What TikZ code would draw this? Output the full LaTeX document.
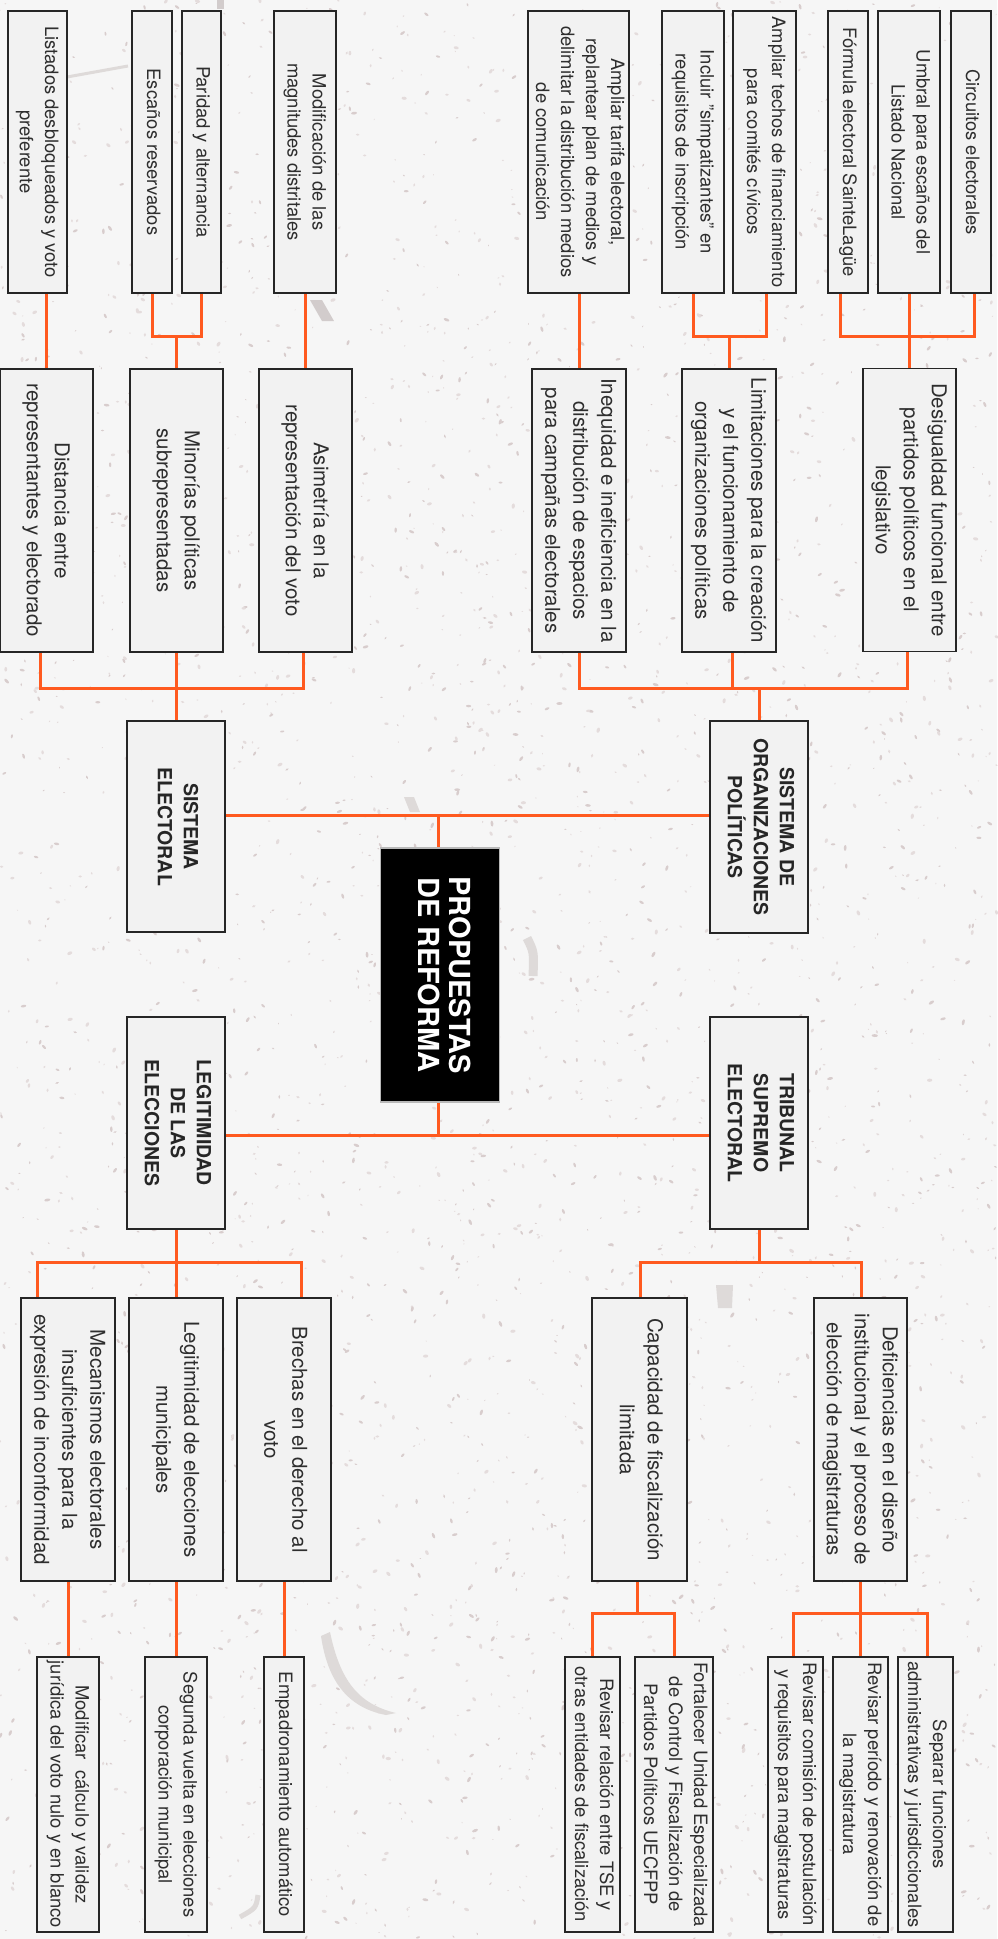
\documentclass[tikz,border=0pt]{standalone}
\usepackage{fontspec}
\setmainfont{TeX Gyre Heros}
\usepackage{graphicx}
\usetikzlibrary{calc}
\definecolor{bgc}{HTML}{F6F6F6}
\definecolor{boxfill}{HTML}{F2F2F2}
\definecolor{boxline}{HTML}{262626}
\definecolor{txt}{HTML}{2E2E2E}
\definecolor{org}{HTML}{FF5A1F}
\definecolor{speckA}{HTML}{D8CDCD}
\definecolor{speckB}{HTML}{E4DCDC}
\definecolor{markA}{HTML}{D2CCCC}
\definecolor{markB}{HTML}{DEDAD9}
\newcommand{\vt}[1]{\rotatebox{-90}{\begin{tabular}{@{}c@{}}#1\end{tabular}}}
\pgfdeclarelayer{back}
\pgfdeclarelayer{conns}
\pgfsetlayers{back,conns,main}
\begin{document}
\begin{tikzpicture}[x=1pt,y=1pt,
  box/.style={draw=boxline, line width=1.6pt, fill=boxfill, inner sep=0pt, text=txt},
  leaf/.style={box, font=\fontsize{18.4}{25}\selectfont},
  mid/.style={box, font=\fontsize{20.5}{28}\selectfont},
  head/.style={box, font=\bfseries\fontsize{19.5}{26}\selectfont, text=boxline},
  core/.style={draw=gray!55, line width=1.2pt, fill=black, text=white, inner sep=0pt,
    font=\bfseries\fontsize{29}{31}\selectfont},
  sz/.style 2 args={minimum width=#1pt, minimum height=#2pt},
  conn/.style={draw=org, line width=3pt}
]
\useasboundingbox (0,0) rectangle (997,-1939);

% ---------- top leaves ----------
\node[leaf, sz={59}{282}]  (t1)  at (37.5,-152)  {\vt{Listados desbloqueados y voto\\preferente}};
\node[leaf, sz={40}{282}]  (t2)  at (152,-152)   {\vt{Escaños reservados}};
\node[leaf, sz={39}{282}]  (t3)  at (201.5,-152) {\vt{Paridad y alternancia}};
\node[leaf, sz={62}{282}]  (t4)  at (305,-152)   {\vt{Modificación de las\\magnitudes distritales}};
\node[leaf, sz={101}{282}] (t5)  at (578.5,-152) {\vt{Ampliar tarifa electoral,\\replantear plan de medios y\\delimitar la distribución medios\\de comunicación}};
\node[leaf, sz={62}{282}]  (t6)  at (693,-152)   {\vt{Incluir "simpatizantes" en\\requisitos de inscripción}};
\node[leaf, sz={63}{282}]  (t7)  at (764.5,-152) {\vt{Ampliar techos de financiamiento\\para comités cívicos}};
\node[leaf, sz={40}{282}]  (t8)  at (848,-152)   {\vt{Fórmula electoral SainteLagüe}};
\node[leaf, sz={62}{282}]  (t9)  at (909,-152)   {\vt{Umbral para escaños del\\Listado Nacional}};
\node[leaf, sz={40}{282}]  (t10) at (971,-152)   {\vt{Circuitos electorales}};

% ---------- upper second level ----------
\node[mid, sz={93}{283}] (m1) at (46.5,-510.5)  {\vt{Distancia entre\\representantes y electorado}};
\node[mid, sz={93}{283}] (m2) at (176.5,-510.5) {\vt{Minorías políticas\\subrepresentadas}};
\node[mid, sz={93}{283}] (m3) at (305.5,-510.5) {\vt{Asimetría en la\\representación del voto}};
\node[mid, sz={94}{283}] (m4) at (579,-510.5)   {\vt{Inequidad e ineficiencia en la\\distribución de espacios\\para campañas electorales}};
\node[mid, sz={94}{283}] (m5) at (729,-510.5)   {\vt{Limitaciones para la creación\\y el funcionamiento de\\organizaciones políticas}};
\node[mid, sz={93}{283}] (m6) at (909.5,-510)   {\vt{Desigualdad funcional entre\\partidos políticos en el\\legislativo}};

% ---------- first level ----------
\node[head, sz={97.5}{211}] (se)  at (176,-826.5) {\vt{SISTEMA\\ELECTORAL}};
\node[head, sz={98}{212}]   (sop) at (759,-827)   {\vt{SISTEMA DE\\ORGANIZACIONES\\POLÍTICAS}};
\node[core, sz={118.5}{254}] (p)  at (440,-975)   {\vt{PROPUESTAS\\DE REFORMA}};
\node[head, sz={97.5}{212}] (le)  at (176,-1123)  {\vt{LEGITIMIDAD\\DE LAS\\ELECCIONES}};
\node[head, sz={98}{212}]   (tse) at (759,-1123)  {\vt{TRIBUNAL\\SUPREMO\\ELECTORAL}};

% ---------- lower second level ----------
\node[mid, sz={94}{283}] (b1) at (68,-1439.5)    {\vt{Mecanismos electorales\\insuficientes para la\\expresión de inconformidad}};
\node[mid, sz={94}{283}] (b2) at (176,-1439.5)   {\vt{Legitimidad de elecciones\\municipales}};
\node[mid, sz={94}{283}] (b3) at (284,-1439.5)   {\vt{Brechas en el derecho al\\voto}};
\node[mid, sz={95}{283}] (b4) at (639.5,-1439.5) {\vt{Capacidad de fiscalización\\limitada}};
\node[mid, sz={93}{283}] (b5) at (860.5,-1439.5) {\vt{Deficiencias en el diseño\\institucional y el proceso de\\elección de magistraturas}};

% ---------- bottom leaves ----------
\node[leaf, sz={62}{275}] (l1) at (68,-1794.5)    {\vt{Modificar\ \ cálculo y validez\\jurídica del voto nulo y en blanco}};
\node[leaf, sz={62}{275}] (l2) at (176,-1794.5)   {\vt{Segunda vuelta en elecciones\\corporación municipal}};
\node[leaf, sz={40}{275}] (l3) at (284,-1794.5)   {\vt{Empadronamiento automático}};
\node[leaf, sz={55}{275}] (l4) at (592.5,-1794.5) {\vt{Revisar relación entre TSE y\\otras entidades de fiscalización}};
\node[leaf, sz={78}{275}, line width=2.8pt] (l5) at (674,-1794.5) {\vt{Fortalecer Unidad Especializada\\de Control y Fiscalización de\\Partidos Políticos UECFPP}};
\node[leaf, sz={55}{275}] (l6) at (795.5,-1794.5) {\vt{Revisar comisión de postulación\\y requisitos para magistraturas}};
\node[leaf, sz={55}{275}] (l7) at (860.5,-1794.5) {\vt{Revisar período y renovación de\\la magistratura}};
\node[leaf, sz={55}{275}] (l8) at (925.5,-1794.5) {\vt{Separar funciones\\administrativas y jurisdiccionales}};

% ---------- level coordinates ----------
\coordinate (ya) at (0,-336);
\coordinate (yb) at (0,-688);
\coordinate (yc) at (0,-815);
\coordinate (yd) at (0,-1135);
\coordinate (ye) at (0,-1262);
\coordinate (yf) at (0,-1613);

% ---------- background ----------
\begin{pgfonlayer}{back}
\fill[bgc] (0,0) rectangle (997,-1939);
\pgfmathsetseed{11}
\foreach \i in {1,...,3800}{
  \pgfmathsetmacro{\xx}{rnd*997}
  \pgfmathsetmacro{\yy}{-rnd*1939}
  \pgfmathsetmacro{\rr}{0.5+rnd*1.3}
  \pgfmathsetmacro{\aa}{rnd*180}
  \pgfmathsetmacro{\cc}{rnd}
  \ifdim\cc pt<0.5pt
    \fill[speckA, rotate around={\aa:(\xx,\yy)}] (\xx,\yy) ellipse [x radius=1.7*\rr, y radius=0.8*\rr];
  \else
    \fill[speckB, rotate around={\aa:(\xx,\yy)}] (\xx,\yy) ellipse [x radius=1.5*\rr, y radius=0.9*\rr];
  \fi
}
% faint brush marks
\fill[markA] (310,-300) -- (322,-300) -- (334,-321) -- (322,-321) -- cycle;
\draw[markB, line width=3pt] (67,-77) -- (128,-66);
\fill[markA] (217,0) -- (224,0) -- (224,-9) -- (217,-9) -- cycle;
\draw[markB, line width=9pt] (527,-938) .. controls (534,-952) .. (533,-976);
\fill[markB] (404,-797) -- (414,-797) -- (420,-812) -- (410,-812) -- cycle;
\fill[markB] (716,-1285) -- (733,-1285) -- (732,-1308) -- (718,-1308) -- cycle;
\fill[markB] (330,-1632) .. controls (340,-1680) and (358,-1704) .. (396,-1713)
  -- (386,-1715) .. controls (350,-1708) and (328,-1684) .. (321,-1636) -- cycle;
\draw[markB, line width=5pt] (258,-1895) .. controls (256,-1908) .. (240,-1917);
\end{pgfonlayer}

% ---------- connectors ----------
\begin{pgfonlayer}{conns}
% top leaves -> upper second level
\draw[conn] (m1.north |- t1.south) -- (m1.north);
\draw[conn] (t2.south) -- (t2.south |- ya) -- (t3.south |- ya) -- (t3.south);
\draw[conn] (m2.north) -- (m2.north |- ya);
\draw[conn] (m3.north |- t4.south) -- (m3.north);
\draw[conn] (m4.north |- t5.south) -- (m4.north);
\draw[conn] (t6.south) -- (t6.south |- ya) -- ([xshift=2pt]t7.south |- ya) -- ([xshift=2pt]t7.south);
\draw[conn] (m5.north) -- (m5.north |- ya);
\draw[conn] ([xshift=-8pt]t8.south) -- ([xshift=-8pt]t8.south |- ya) -- ([xshift=3pt]t10.south |- ya) -- ([xshift=3pt]t10.south);
\draw[conn] (t9.south) -- (t9.south |- ya);
\draw[conn] (m6.north) -- (m6.north |- ya);
% upper second level -> first level
\draw[conn] ([xshift=-6pt]m1.south) -- ([xshift=-6pt]m1.south |- yb) -- ([xshift=-2pt]m3.south |- yb) -- ([xshift=-2pt]m3.south);
\draw[conn] (m2.south) -- (m2.south |- yb);
\draw[conn] (se.north) -- (se.north |- yb);
\draw[conn] (m4.south) -- (m4.south |- yb) -- ([xshift=-2pt]m6.south |- yb) -- ([xshift=-2pt]m6.south);
\draw[conn] ([xshift=3pt]m5.south) -- ([xshift=3pt]m5.south |- yb);
\draw[conn] (sop.north) -- (sop.north |- yb);
% first level <-> core
\draw[conn] (se.east |- yc) -- (sop.west |- yc);
\draw[conn] ([xshift=-2pt]p.north) -- ([xshift=-2pt]p.north |- yc);
\draw[conn] (le.east |- yd) -- (tse.west |- yd);
\draw[conn] ([xshift=-2pt]p.south) -- ([xshift=-2pt]p.south |- yd);
% first level -> lower second level
\draw[conn] (le.south) -- (le.south |- ye);
\draw[conn] ([xshift=-31pt]b1.north) -- ([xshift=-31pt]b1.north |- ye) -- ([xshift=17pt]b3.north |- ye) -- ([xshift=17pt]b3.north);
\draw[conn] (b2.north) -- (b2.north |- ye);
\draw[conn] (tse.south) -- (tse.south |- ye);
\draw[conn] ([xshift=1pt]b4.north) -- ([xshift=1pt]b4.north |- ye) -- ([xshift=1pt]b5.north |- ye) -- ([xshift=1pt]b5.north);
% lower second level -> bottom leaves
\draw[conn] (b1.south) -- (l1.north);
\draw[conn] (b2.south) -- (l2.north);
\draw[conn] (b3.south) -- (l3.north);
\draw[conn] (l4.north) -- (l4.north |- yf) -- (l5.north |- yf) -- (l5.north);
\draw[conn] ([xshift=-2pt]b4.south) -- ([xshift=-2pt]b4.south |- yf);
\draw[conn] ([xshift=-2pt]l6.north) -- ([xshift=-2pt]l6.north |- yf) -- ([xshift=2pt]l8.north |- yf) -- ([xshift=2pt]l8.north);
\draw[conn] (l7.north) -- (l7.north |- yf);
\draw[conn] (b5.south) -- (b5.south |- yf);
\end{pgfonlayer}
\end{tikzpicture}
\end{document}
